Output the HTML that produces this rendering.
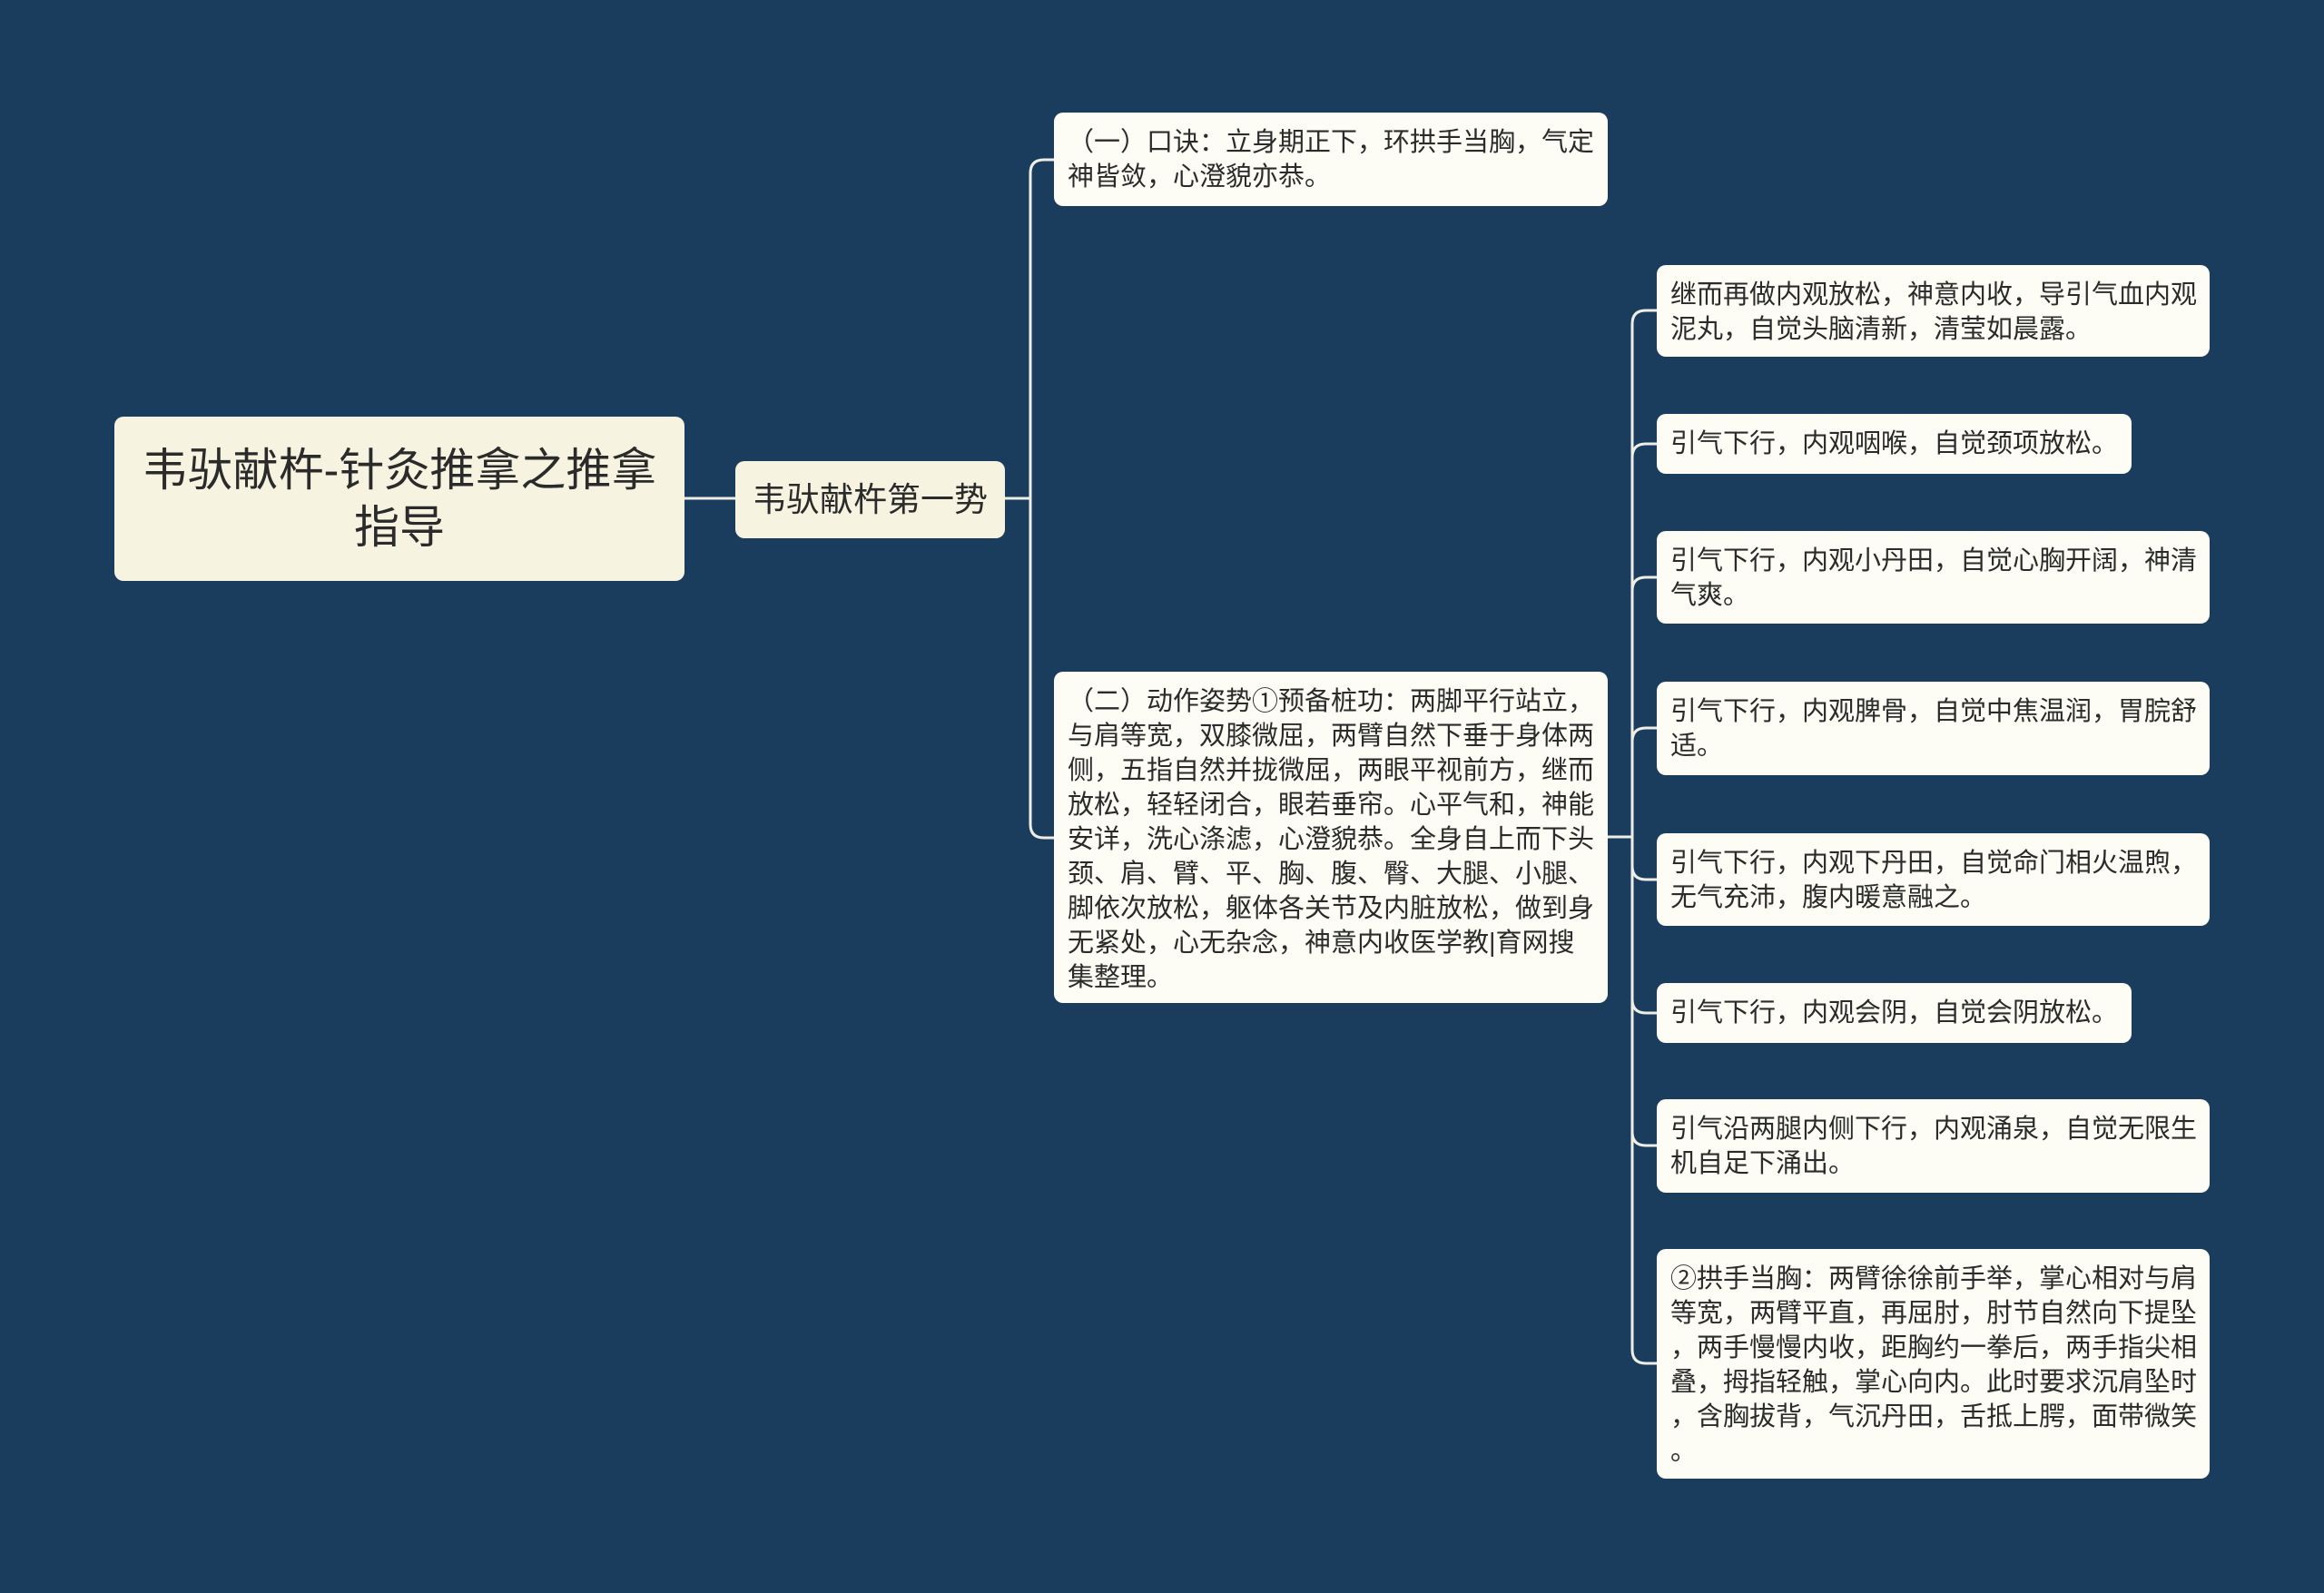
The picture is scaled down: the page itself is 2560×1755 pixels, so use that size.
<!DOCTYPE html>
<html><head><meta charset="utf-8">
<style>
html,body{margin:0;padding:0}
body{width:2560px;height:1755px;background:#1a3d5d;position:relative;overflow:hidden;font-family:"Liberation Sans","Noto Sans CJK SC",sans-serif;color:#2b2b2b}
.n{position:absolute;box-sizing:border-box;background:#fdfdf6;border-radius:10px;font-size:29px;line-height:38px;padding:14px 15px;white-space:nowrap}
.c{background:#f7f3e1;display:flex;align-items:center;justify-content:center;text-align:center}
svg{position:absolute;left:0;top:0}
</style></head><body>
<svg width="2560" height="1755" fill="none" stroke="#eeeee6" stroke-width="3">
<path d="M754 549 H810"/>
<path d="M1107 549 H1135"/>
<path d="M1135 549 V191 Q1135 176 1150 176 H1161"/>
<path d="M1135 549 V908 Q1135 923 1150 923 H1161"/>
<path d="M1771 922 H1798"/>
<path d="M1798 922 V357 Q1798 342 1813 342 H1825"/>
<path d="M1798 922 V504 Q1798 489 1813 489 H1825"/>
<path d="M1798 922 V651 Q1798 636 1813 636 H1825"/>
<path d="M1798 922 V817 Q1798 802 1813 802 H1825"/>
<path d="M1798 922 V954 Q1798 969 1813 969 H1825"/>
<path d="M1798 922 V1101 Q1798 1116 1813 1116 H1825"/>
<path d="M1798 922 V1247 Q1798 1262 1813 1262 H1825"/>
<path d="M1798 922 V1487 Q1798 1502 1813 1502 H1825"/>
</svg>
<div class="n c" style="left:126px;top:459px;width:628px;height:181px;font-size:50px;line-height:63px;padding:0">韦驮献杵-针灸推拿之推拿<br>指导</div>
<div class="n c" style="left:810px;top:508px;width:297px;height:85px;font-size:37px;padding:0">韦驮献杵第一势</div>
<div class="n" style="left:1161px;top:124px;width:610px;height:103px">（一）口诀：立身期正下，环拱手当胸，气定<br>神皆敛，心澄貌亦恭。</div>
<div class="n" style="left:1161px;top:740px;width:610px;height:365px">（二）动作姿势①预备桩功：两脚平行站立，<br>与肩等宽，双膝微屈，两臂自然下垂于身体两<br>侧，五指自然并拢微屈，两眼平视前方，继而<br>放松，轻轻闭合，眼若垂帘。心平气和，神能<br>安详，洗心涤滤，心澄貌恭。全身自上而下头<br>颈、肩、臂、平、胸、腹、臀、大腿、小腿、<br>脚依次放松，躯体各关节及内脏放松，做到身<br>无紧处，心无杂念，神意内收医学教|育网搜<br>集整理。</div>
<div class="n" style="left:1825px;top:292px;width:609px;height:101px">继而再做内观放松，神意内收，导引气血内观<br>泥丸，自觉头脑清新，清莹如晨露。</div>
<div class="n" style="left:1825px;top:456px;width:523px;height:66px">引气下行，内观咽喉，自觉颈项放松。</div>
<div class="n" style="left:1825px;top:585px;width:609px;height:102px">引气下行，内观小丹田，自觉心胸开阔，神清<br>气爽。</div>
<div class="n" style="left:1825px;top:751px;width:609px;height:103px">引气下行，内观脾骨，自觉中焦温润，胃脘舒<br>适。</div>
<div class="n" style="left:1825px;top:918px;width:609px;height:102px">引气下行，内观下丹田，自觉命门相火温煦，<br>无气充沛，腹内暖意融之。</div>
<div class="n" style="left:1825px;top:1083px;width:523px;height:66px">引气下行，内观会阴，自觉会阴放松。</div>
<div class="n" style="left:1825px;top:1211px;width:609px;height:103px">引气沿两腿内侧下行，内观涌泉，自觉无限生<br>机自足下涌出。</div>
<div class="n" style="left:1825px;top:1376px;width:609px;height:253px">②拱手当胸：两臂徐徐前手举，掌心相对与肩<br>等宽，两臂平直，再屈肘，肘节自然向下提坠<br>，两手慢慢内收，距胸约一拳后，两手指尖相<br>叠，拇指轻触，掌心向内。此时要求沉肩坠时<br>，含胸拔背，气沉丹田，舌抵上腭，面带微笑<br>。</div>
</body></html>
